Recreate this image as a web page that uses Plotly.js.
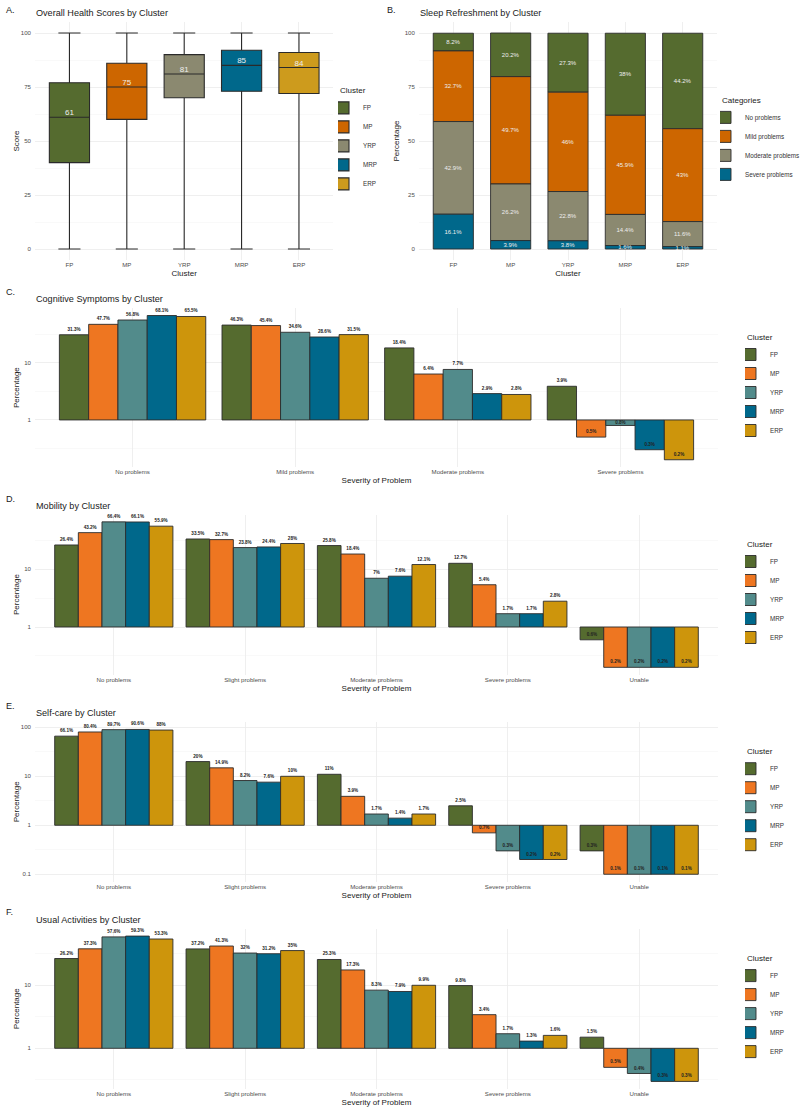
<!DOCTYPE html>
<html>
<head>
<meta charset="utf-8">
<script src="https://cdn.plot.ly/plotly-3.0.1.min.js"></script>
<style>
  html, body { margin: 0; padding: 0; background: #ffffff; }
  #chart { width: 800px; height: 1108px; }
</style>
</head>
<body>
<div id="chart"></div>
<script>
// ---------- data ----------
const clusters = ['FP', 'MP', 'YRP', 'MRP', 'ERP'];

// A. Overall health score distribution (five-number summaries)
const scoreMin    = [0, 0, 0, 0, 0];
const scoreQ1     = [40, 60, 70, 73, 72];
const scoreMedian = [61, 75, 81, 85, 84];
const scoreQ3     = [77, 86, 90, 92, 91];
const scoreMax    = [100, 100, 100, 100, 100];

// B. Sleep refreshment (% per cluster)
const sleepCategories = ['No problems', 'Mild problems', 'Moderate problems', 'Severe problems'];
const sleepNo       = [8.2, 20.2, 27.3, 38, 44.2];
const sleepMild     = [32.7, 49.7, 46, 45.9, 43];
const sleepModerate = [42.9, 26.2, 22.8, 14.4, 11.6];
const sleepSevere   = [16.1, 3.9, 3.8, 1.6, 1.1];

// C. Cognitive symptoms (% per severity level)
const cognitiveLevels = ['No problems', 'Mild problems', 'Moderate problems', 'Severe problems'];
const cognitiveFP  = [31.3, 46.3, 18.4, 3.9];
const cognitiveMP  = [47.7, 45.4, 6.4, 0.5];
const cognitiveYRP = [56.8, 34.6, 7.7, 0.8];
const cognitiveMRP = [68.1, 28.6, 2.9, 0.3];
const cognitiveERP = [65.5, 31.5, 2.8, 0.2];

// D–F. EQ-5D style dimensions (% per severity level)
const dimensionLevels = ['No problems', 'Slight problems', 'Moderate problems', 'Severe problems', 'Unable'];

const mobilityFP  = [26.4, 33.5, 25.8, 12.7, 0.6];
const mobilityMP  = [43.2, 32.7, 18.4, 5.4, 0.2];
const mobilityYRP = [66.4, 23.8, 7, 1.7, 0.2];
const mobilityMRP = [66.1, 24.4, 7.6, 1.7, 0.2];
const mobilityERP = [55.9, 28, 12.1, 2.8, 0.2];

const selfcareFP  = [66.1, 20, 11, 2.5, 0.3];
const selfcareMP  = [80.4, 14.9, 3.9, 0.7, 0.1];
const selfcareYRP = [89.7, 8.2, 1.7, 0.3, 0.1];
const selfcareMRP = [90.6, 7.6, 1.4, 0.2, 0.1];
const selfcareERP = [88, 10, 1.7, 0.2, 0.1];

const activitiesFP  = [26.2, 37.2, 25.3, 9.8, 1.5];
const activitiesMP  = [37.3, 41.3, 17.3, 3.4, 0.5];
const activitiesYRP = [57.6, 32, 8.3, 1.7, 0.4];
const activitiesMRP = [59.3, 31.2, 7.9, 1.3, 0.3];
const activitiesERP = [53.3, 35, 9.9, 1.6, 0.3];

// ---------- styling ----------
const W = 800, H = 1108;
const px = v => v / W;
const py = v => 1 - v / H;

const FONT = 'Liberation Sans, Arial, Helvetica, sans-serif';
const boxColors   = ['#556B2F', '#CD6600', '#8B8970', '#00688B', '#CD9B1D'];
const sleepColors = ['#556B2F', '#CD6600', '#8B8970', '#00688B'];
const barColors   = ['#556B2F', '#EE7621', '#528B8B', '#00688B', '#CD950C'];
const OUTLINE = '#2b2b2b';

const traces = [];

// A. box plots
clusters.forEach((c, i) => {
  traces.push({
    type: 'box', name: c, x: [c],
    lowerfence: [scoreMin[i]], q1: [scoreQ1[i]], median: [scoreMedian[i]],
    q3: [scoreQ3[i]], upperfence: [scoreMax[i]],
    fillcolor: boxColors[i], line: { color: '#2a2a2a', width: 1.1 },
    width: 0.7, whiskerwidth: 0.55, boxpoints: false,
    xaxis: 'x', yaxis: 'y', legend: 'legend', hoverinfo: 'skip'
  });
});
traces.push({
  type: 'scatter', mode: 'text', x: clusters, y: scoreMedian,
  text: scoreMedian.map(String), textposition: 'top center',
  textfont: { size: 8, color: '#EEEEEE', family: FONT },
  showlegend: false, cliponaxis: false, xaxis: 'x', yaxis: 'y', hoverinfo: 'skip'
});

// B. stacked sleep bars (top category listed first, stacked on the ones below)
const sleepSeries = [sleepNo, sleepMild, sleepModerate, sleepSevere];
sleepSeries.forEach((vals, k) => {
  const base = vals.map((_, i) => sleepSeries.slice(k + 1).reduce((s, arr) => s + arr[i], 0));
  traces.push({
    type: 'bar', name: sleepCategories[k], x: clusters, y: vals, base: base,
    offsetgroup: 'sleep', width: 0.7, offset: -0.35,
    marker: { color: sleepColors[k], line: { color: OUTLINE, width: 0.9 } },
    text: vals.map(v => v + '%'), textposition: 'inside', insidetextanchor: 'middle',
    constraintext: 'none', textangle: 0,
    insidetextfont: { size: 6, color: '#EEEEEE', family: FONT },
    xaxis: 'x2', yaxis: 'y2', legend: 'legend2', hoverinfo: 'skip'
  });
});

// C–F. grouped bars on a log scale, drawn from 1 up (or down) to each value
function addGrouped(levels, seriesList, n) {
  seriesList.forEach((vals, i) => {
    traces.push({
      type: 'bar', name: clusters[i], x: levels,
      base: 1, y: vals.map(v => v - 1),
      marker: { color: barColors[i], line: { color: OUTLINE, width: 0.9 } },
      text: vals.map(v => v + '%'),
      textposition: vals.map(v => (v >= 1 ? 'outside' : 'inside')),
      insidetextanchor: 'end', constraintext: 'none', textangle: 0, cliponaxis: false,
      textfont: { size: 4.6, color: '#222222', family: FONT, weight: 'bold' },
      xaxis: 'x' + n, yaxis: 'y' + n, legend: 'legend' + n, hoverinfo: 'skip'
    });
  });
}
addGrouped(cognitiveLevels, [cognitiveFP, cognitiveMP, cognitiveYRP, cognitiveMRP, cognitiveERP], 3);
addGrouped(dimensionLevels, [mobilityFP, mobilityMP, mobilityYRP, mobilityMRP, mobilityERP], 4);
addGrouped(dimensionLevels, [selfcareFP, selfcareMP, selfcareYRP, selfcareMRP, selfcareERP], 5);
addGrouped(dimensionLevels, [activitiesFP, activitiesMP, activitiesYRP, activitiesMRP, activitiesERP], 6);

// ---------- axes ----------
const tickFont = { size: 6.1, color: '#4D4D4D', family: FONT };
const titleFont = { size: 8, color: '#1a1a1a', family: FONT };

function catAxis(x0, x1, nCats, anchor, title) {
  return {
    domain: [px(x0), px(x1)], anchor: anchor, type: 'category',
    range: [-0.6, nCats - 0.4], showgrid: true, gridcolor: '#EBEBEB', gridwidth: 0.8,
    zeroline: false, showline: false, ticks: '', tickfont: tickFont, fixedrange: true,
    title: { text: title, font: titleFont, standoff: 3 }
  };
}
function linAxis(top, bottom, anchor, title, standoff) {
  return {
    domain: [py(bottom), py(top)], anchor: anchor, range: [-5, 105],
    tickvals: [0, 25, 50, 75, 100], showgrid: true, gridcolor: '#EBEBEB', gridwidth: 0.8,
    minor: { tickmode: 'array', tickvals: [12.5, 37.5, 62.5, 87.5], showgrid: true, gridcolor: '#F3F3F3', gridwidth: 0.5 },
    zeroline: false, showline: false, ticks: '', tickfont: tickFont, fixedrange: true,
    ticklabelstandoff: 3,
    title: { text: title, font: titleFont, standoff: standoff }
  };
}
function logAxis(top, bottom, lo, hi, anchor, standoff) {
  return {
    domain: [py(bottom), py(top)], anchor: anchor, type: 'log', range: [lo, hi],
    tickmode: 'array', tickvals: [0.1, 1, 10, 100], ticktext: ['0.1', '1', '10', '100'],
    showgrid: true, gridcolor: '#EBEBEB', gridwidth: 0.8,
    minor: { tickmode: 'array', tickvals: [0.0316, 0.316, 3.16, 31.6], showgrid: true, gridcolor: '#F3F3F3', gridwidth: 0.5 },
    zeroline: false, showline: false, ticks: '', tickfont: tickFont, fixedrange: true,
    ticklabelstandoff: 3,
    title: { text: 'Percentage', font: titleFont, standoff: standoff }
  };
}

function legendAt(xPx, yMid, title) {
  return {
    x: px(xPx), xanchor: 'left', y: py(yMid), yanchor: 'middle',
    bgcolor: 'rgba(0,0,0,0)', traceorder: 'normal', indentation: -15,
    title: { text: title, font: { size: 8, color: '#1a1a1a', family: FONT } },
    font: { size: 6.3, color: '#333333', family: FONT }, itemclick: false, itemdoubleclick: false
  };
}

function annot(text, x, y, size) {
  return { text: text, x: px(x), y: py(y), xref: 'paper', yref: 'paper',
           xanchor: 'left', yanchor: 'middle', showarrow: false,
           font: { size: size, color: '#1a1a1a', family: FONT } };
}

const layout = {
  width: W, height: H, margin: { l: 0, r: 0, t: 0, b: 0, autoexpand: false },
  paper_bgcolor: '#ffffff', plot_bgcolor: '#ffffff',
  font: { family: FONT },
  showlegend: true, barmode: 'group', bargap: 0.1, bargroupgap: 0, boxmode: 'overlay',

  xaxis:  catAxis(35, 333.4, 5, 'y', 'Cluster'),
  yaxis:  linAxis(22.2, 259.8, 'x', 'Score', 0),
  xaxis2: catAxis(418.9, 717.1, 5, 'y2', 'Cluster'),
  yaxis2: linAxis(22.2, 259.8, 'x2', 'Percentage', 3),

  xaxis3: catAxis(35, 718, 4, 'y3', 'Severity of Problem'),
  yaxis3: logAxis(308.3, 467, -0.826, 1.960, 'x3', 3),
  xaxis4: catAxis(35, 718, 5, 'y4', 'Severity of Problem'),
  yaxis4: logAxis(514.6, 674.6, -0.825, 1.948, 'x4', 3),
  xaxis5: catAxis(35, 718, 5, 'y5', 'Severity of Problem'),
  yaxis5: logAxis(722.2, 881.5, -1.148, 2.105, 'x5', 0),
  xaxis6: catAxis(35, 718, 5, 'y6', 'Severity of Problem'),
  yaxis6: logAxis(928.8, 1088.7, -0.638, 1.888, 'x6', 3),

  legend:  legendAt(338, 141, 'Cluster'),
  legend2: legendAt(720, 141, 'Categories'),
  legend3: legendAt(745, 387.6, 'Cluster'),
  legend4: legendAt(745, 594.6, 'Cluster'),
  legend5: legendAt(745, 801.8, 'Cluster'),
  legend6: legendAt(745, 1008.7, 'Cluster'),

  annotations: [
    annot('A.', 4, 10, 9.1), annot('Overall Health Scores by Cluster', 34, 13, 9.1),
    annot('B.', 385, 10, 9.1), annot('Sleep Refreshment by Cluster', 418, 13, 9.1),
    annot('C.', 4, 292, 9.1), annot('Cognitive Symptoms by Cluster', 34, 299, 9.1),
    annot('D.', 4, 499, 9.1), annot('Mobility by Cluster', 34, 506, 9.1),
    annot('E.', 4, 706, 9.1), annot('Self-care by Cluster', 34, 713, 9.1),
    annot('F.', 4, 912, 9.1), annot('Usual Activities by Cluster', 34, 920, 9.1)
  ]
};

Plotly.newPlot('chart', traces, layout, { staticPlot: true, displayModeBar: false });
</script>
</body>
</html>
